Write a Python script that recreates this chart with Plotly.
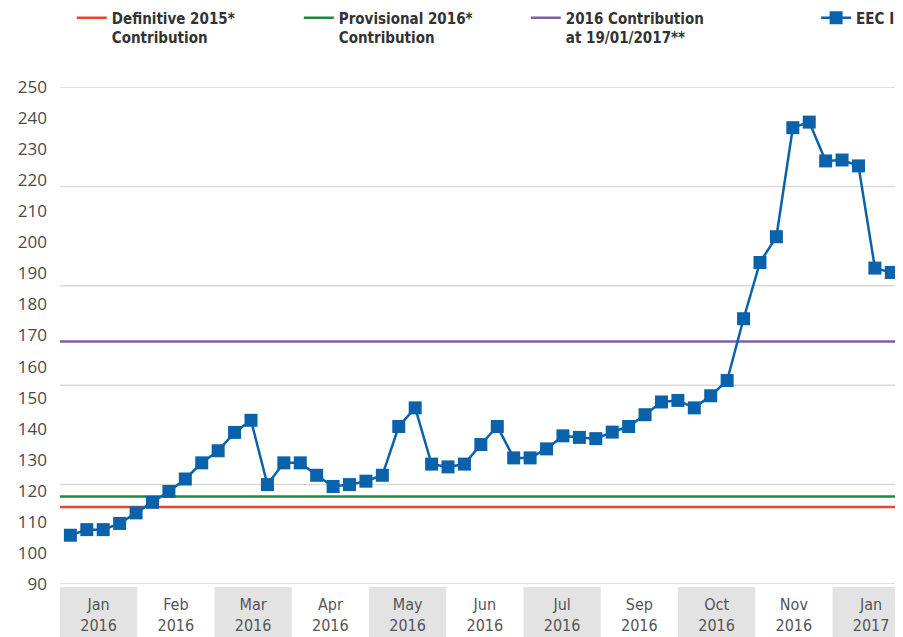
import plotly.graph_objects as go

# weekly EEC I values
eec_values = [105.7, 107.5, 107.5, 109.5, 112.9, 116.3, 119.8, 123.8, 129.0, 132.9,
              138.8, 142.7, 122.0, 129.0, 129.0, 125.0, 121.4, 122.0, 123.1, 125.0,
              140.7, 146.7, 128.6, 127.7, 128.6, 134.9, 140.7, 130.6, 130.6, 133.5,
              137.7, 137.2, 136.8, 138.9, 140.7, 144.5, 148.6, 149.1, 146.7, 150.6,
              155.5, 175.4, 193.5, 201.8, 236.9, 238.7, 226.2, 226.5, 224.6, 191.7,
              190.3]

months = ["Jan<br>2016", "Feb<br>2016", "Mar<br>2016", "Apr<br>2016", "May<br>2016",
          "Jun<br>2016", "Jul<br>2016", "Sep<br>2016", "Oct<br>2016", "Nov<br>2016",
          "Jan<br>2017"]

definitive_2015 = 114.8
provisional_2016 = 118.2
contribution_2016 = 168.1

y_ticks = list(range(90, 251, 10))
grid_values = [90, 122, 154, 186, 218, 250]

weeks = list(range(len(eec_values)))
band_width = 4.705
x_start = -0.633
x_end = 50.65
band_centers = [x_start + band_width * (k + 0.5) for k in range(len(months))]

LABEL_FONT = "Liberation Sans Narrow, DejaVu Sans Condensed, Roboto, sans-serif"

fig = go.Figure()

fig.add_trace(go.Scatter(x=[x_start, x_end], y=[definitive_2015] * 2, mode="lines",
                         line=dict(color="#e8472d", width=2.5),
                         name="<b>Definitive 2015*<br>Contribution</b>", legend="legend"))
fig.add_trace(go.Scatter(x=[x_start, x_end], y=[provisional_2016] * 2, mode="lines",
                         line=dict(color="#1f8a3f", width=2.5),
                         name="<b>Provisional 2016*<br>Contribution</b>", legend="legend"))
fig.add_trace(go.Scatter(x=[x_start, x_end], y=[contribution_2016] * 2, mode="lines",
                         line=dict(color="#7c5fa8", width=2.5),
                         name="<b>2016 Contribution<br>at 19/01/2017**</b>", legend="legend"))
fig.add_trace(go.Scatter(x=weeks, y=eec_values, mode="lines+markers",
                         line=dict(color="#0a62ab", width=2.5),
                         marker=dict(symbol="square", size=13, color="#0a62ab"),
                         name="<b>EEC I</b>", legend="legend2"))

# grid lines (not on the label ticks in the original)
for g in grid_values:
    fig.add_hline(y=g, line=dict(color="#d9d9d9", width=1.5), layer="below")

# alternating month bands under the axis
for k in range(len(months)):
    if k % 2 == 0:
        fig.add_shape(type="rect", xref="x", yref="paper",
                      x0=x_start + band_width * k, x1=x_start + band_width * (k + 1),
                      y0=-0.006, y1=-0.12, fillcolor="#e3e3e3", line_width=0,
                      layer="below")

fig.update_xaxes(range=[x_start, x_end], tickvals=band_centers, ticktext=months,
                 showgrid=False, zeroline=False, ticks="", ticklabelstandoff=9,
                 tickfont=dict(family=LABEL_FONT, size=16, color="#555555"))
fig.update_yaxes(range=[90, 250], tickvals=y_ticks, showgrid=False, zeroline=False,
                 ticks="", ticklabelstandoff=12,
                 tickfont=dict(family="Open Sans", size=17, color="#4a4a4a"))

# page body has an 8px margin, so the figure is a bit smaller than the window
fig.update_layout(
    width=895, height=629,
    margin=dict(l=52, r=1, t=79, b=53, autoexpand=False),
    plot_bgcolor="white", paper_bgcolor="white",
    legend=dict(orientation="h", x=0.014, xanchor="left", y=1.172, yanchor="top",
                valign="top", entrywidth=182, entrywidthmode="pixels",
                font=dict(family=LABEL_FONT, size=15, color="#333333")),
    legend2=dict(orientation="h", x=0.898, xanchor="left", y=1.172, yanchor="top",
                 valign="top",
                 font=dict(family=LABEL_FONT, size=15, color="#333333")),
)

fig.write_html("out.html")
